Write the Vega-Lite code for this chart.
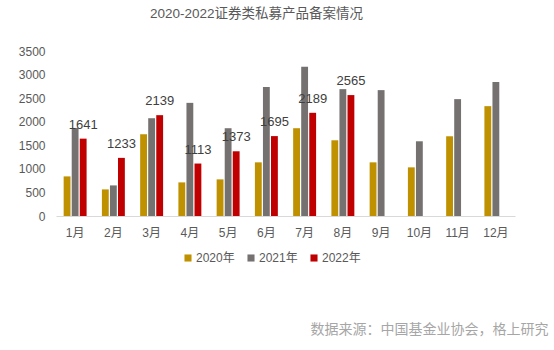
{
  "$schema": "https://vega.github.io/schema/vega-lite/v6.json",
  "autosize": "none",
  "width": 459,
  "height": 165,
  "padding": {"left": 56, "top": 51, "right": 39, "bottom": 134},
  "background": "white",
  "config": {
    "view": {"stroke": null},
    "font": "Liberation Sans, Noto Sans CJK SC, sans-serif"
  },
  "title": {
    "text": "2020-2022证券类私募产品备案情况",
    "fontSize": 13.5,
    "fontWeight": "normal",
    "color": "#595959",
    "font": "Liberation Sans, Noto Sans CJK SC",
    "anchor": "middle",
    "frame": "group",
    "dx": -29,
    "dy": -2,
    "offset": 23
  },
  "data": {
    "values": [
      {"month": "1月", "year": "2020年", "value": 840},
      {"month": "1月", "year": "2021年", "value": 1868},
      {"month": "1月", "year": "2022年", "value": 1641},
      {"month": "2月", "year": "2020年", "value": 564},
      {"month": "2月", "year": "2021年", "value": 649},
      {"month": "2月", "year": "2022年", "value": 1233},
      {"month": "3月", "year": "2020年", "value": 1734},
      {"month": "3月", "year": "2021年", "value": 2074},
      {"month": "3月", "year": "2022年", "value": 2139},
      {"month": "4月", "year": "2020年", "value": 713},
      {"month": "4月", "year": "2021年", "value": 2400},
      {"month": "4月", "year": "2022年", "value": 1113},
      {"month": "5月", "year": "2020年", "value": 777},
      {"month": "5月", "year": "2021年", "value": 1862},
      {"month": "5月", "year": "2022年", "value": 1373},
      {"month": "6月", "year": "2020年", "value": 1138},
      {"month": "6月", "year": "2021年", "value": 2734},
      {"month": "6月", "year": "2022年", "value": 1695},
      {"month": "7月", "year": "2020年", "value": 1862},
      {"month": "7月", "year": "2021年", "value": 3166},
      {"month": "7月", "year": "2022年", "value": 2189},
      {"month": "8月", "year": "2020年", "value": 1606},
      {"month": "8月", "year": "2021年", "value": 2691},
      {"month": "8月", "year": "2022年", "value": 2565},
      {"month": "9月", "year": "2020年", "value": 1138},
      {"month": "9月", "year": "2021年", "value": 2670},
      {"month": "10月", "year": "2020年", "value": 1032},
      {"month": "10月", "year": "2021年", "value": 1585},
      {"month": "11月", "year": "2020年", "value": 1691},
      {"month": "11月", "year": "2021年", "value": 2479},
      {"month": "12月", "year": "2020年", "value": 2330},
      {"month": "12月", "year": "2021年", "value": 2840}
    ]
  },
  "encoding": {
    "x": {
      "field": "month",
      "type": "nominal",
      "sort": ["1月","2月","3月","4月","5月","6月","7月","8月","9月","10月","11月","12月"],
      "scale": {"paddingInner": 0.4, "paddingOuter": 0.2},
      "axis": {
        "title": "数据来源：中国基金业协会，格上研究",
        "titleFontSize": 14,
        "titleFontWeight": "normal",
        "titleColor": "#a6a6a6",
        "titleAnchor": "end",
        "titleAlign": "right",
        "titleBaseline": "middle",
        "titleX": 492,
        "titleY": 113,
        "labelAngle": 0,
        "labelFontSize": 12,
        "labelColor": "#595959",
        "labelPadding": 11,
        "ticks": false,
        "domainColor": "#d9d9d9",
        "domainWidth": 1
      }
    },
    "xOffset": {
      "field": "year",
      "type": "nominal",
      "scale": {"domain": ["2020年", "2021年", "2022年"], "paddingInner": 0.15}
    },
    "y": {
      "field": "value",
      "type": "quantitative",
      "scale": {"domain": [0, 3500]},
      "axis": {
        "title": null,
        "values": [0, 500, 1000, 1500, 2000, 2500, 3000, 3500],
        "format": "d",
        "grid": false,
        "domain": false,
        "ticks": false,
        "labelFontSize": 12,
        "labelColor": "#595959",
        "labelPadding": 11
      }
    }
  },
  "layer": [
    {
      "mark": {"type": "bar"},
      "encoding": {
        "color": {
          "field": "year",
          "type": "nominal",
          "scale": {"domain": ["2020年", "2021年", "2022年"], "range": ["#BF9000", "#767171", "#C00000"]},
          "legend": {
            "title": null,
            "orient": "none",
            "direction": "horizontal",
            "legendX": 126,
            "legendY": 201,
            "symbolType": "square",
            "symbolSize": 50,
            "symbolStrokeWidth": 0,
            "labelFontSize": 12,
            "labelColor": "#595959",
            "labelOffset": 2,
            "columnPadding": 10
          }
        }
      }
    },
    {
      "transform": [{"filter": "datum.year === '2022年'"}],
      "mark": {"type": "text", "baseline": "alphabetic", "dy": -10, "fontSize": 13, "color": "#404040"},
      "encoding": {
        "text": {"field": "value", "type": "quantitative", "format": "d"}
      }
    }
  ]
}
